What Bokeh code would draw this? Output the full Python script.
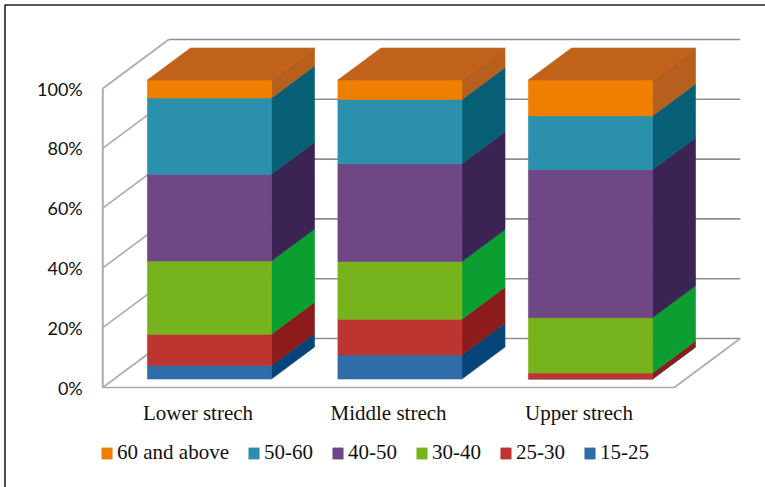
from bokeh.plotting import figure
from bokeh.models import Range1d, FixedTicker, Legend, LegendItem
from bokeh.embed import file_html
from bokeh.resources import INLINE

categories = ["Lower strech", "Middle strech", "Upper strech"]
ticks_pct = [0, 20, 40, 60, 80, 100]
s_15_25 = [4.5, 8, 0]
s_25_30 = [10.5, 12, 2]
s_30_40 = [24.5, 19.3, 18.5]
s_40_50 = [29, 32.7, 49.5]
s_50_60 = [25.5, 21.5, 18]
s_60_up = [6, 6.5, 12]
names = ["15-25", "25-30", "30-40", "40-50", "50-60", "60 and above"]
series = [s_15_25, s_25_30, s_30_40, s_40_50, s_50_60, s_60_up]
front = ["#2F6CA8", "#BD3531", "#76B31C", "#6F4785", "#2B90AC", "#EE7F00"]
side = ["#06457A", "#8C1B1B", "#0A9F30", "#3B2454", "#065F74", "#B75F1D"]
top_col = "#C0621A"

# layout (pixels)
W, H = 765, 487
UX, UY = 190.5, 2.99          # px per category, px per percent
X0, Y0 = 197.5, 387           # pixel position of category 0 / 0 %
DX, DY = 66 / UX, 49 / UY     # oblique offset of unit depth
D0, D1 = 0.173, 0.826         # bar depth span
BW = 124 / UX


def px_x(v):
    return (v - X0) / UX


def px_y(v):
    return (Y0 - v) / UY


p = figure(frame_width=W, frame_height=H, output_backend="svg", toolbar_location=None,
           x_range=Range1d(px_x(0), px_x(W)), y_range=Range1d(px_y(H), px_y(0)),
           min_border_left=0, min_border_right=0, min_border_top=0, min_border_bottom=0)
p.outline_line_alpha = 0
p.grid.visible = False
p.background_fill_color = "white"


def pr(x, y, d):
    return x + d * DX, y + d * DY


# picture frame of the reference: top and left rules only
p.line([px_x(W), px_x(4.5), px_x(4.5)], [px_y(4.5), px_y(4.5), px_y(H)], line_color="#222222", line_width=1.6)

xl, xr = -0.5, 2.5
for t in ticks_pct:
    x1, y1 = pr(xl, t, 1)
    x2, y2 = pr(xr, t, 1)
    p.line([xl, x1], [t, y1], line_color="#ABABAB", line_width=1.6)
    p.line([x1, x2], [y1, y2], line_color="#8E8E8E", line_width=1.6)
p.line([xl, xl], [0, 100], line_color="#ABABAB", line_width=2)
fx, fy = pr(xr, 0, 1)
p.line([xl, xr, fx], [0, 0, fy], line_color="#ABABAB", line_width=1.6)

items = []
for k, (vals, name) in enumerate(zip(series, names)):
    fxs, fys, sxs, sys = [], [], [], []
    for i, v in enumerate(vals):
        base = sum(s[i] for s in series[:k])
        a, _ = pr(i - BW / 2, 0, D0)
        b, _ = pr(i + BW / 2, 0, D0)
        ly = pr(0, base, D0)[1]
        hy = pr(0, base + v, D0)[1]
        fxs.append([a, b, b, a])
        fys.append([ly, ly, hy, hy])
        b2, _ = pr(i + BW / 2, 0, D1)
        ly2 = pr(0, base, D1)[1]
        hy2 = pr(0, base + v, D1)[1]
        sxs.append([b, b2, b2, b])
        sys.append([ly, ly2, hy2, hy])
    p.patches(sxs, sys, fill_color=side[k], line_color=side[k], line_width=0.6)
    r = p.patches(fxs, fys, fill_color=front[k], line_color=front[k], line_width=0.6)
    items.append(LegendItem(label=name, renderers=[r]))

txs, tys = [], []
for i in range(len(categories)):
    a0, y0 = pr(i - BW / 2, 100, D0)
    b0, _ = pr(i + BW / 2, 100, D0)
    a1, y1 = pr(i - BW / 2, 100, D1)
    b1, _ = pr(i + BW / 2, 100, D1)
    txs.append([a0, b0, b1, a1])
    tys.append([y0, y0, y1, y1])
p.patches(txs, tys, fill_color=top_col, line_color=top_col, line_width=0.6)

ya = p.yaxis[0]
ya.fixed_location = xl
ya.ticker = FixedTicker(ticks=ticks_pct)
ya.major_label_overrides = {t: f"{t}%" for t in ticks_pct}
ya.major_label_text_font = "Lato"
ya.major_label_text_font_size = "18px"
ya.major_label_text_color = "#111111"
ya.major_label_standoff = 14
ya.axis_line_color = None
ya.major_tick_line_color = None
ya.minor_tick_line_color = None

xa = p.xaxis[0]
xa.fixed_location = px_y(392)
xa.ticker = FixedTicker(ticks=list(range(len(categories))))
xa.major_label_overrides = {i: c for i, c in enumerate(categories)}
xa.major_label_text_font = "Liberation Serif"
xa.major_label_text_font_size = "21px"
xa.major_label_text_color = "#111111"
xa.major_label_standoff = 2
xa.axis_line_color = None
xa.major_tick_line_color = None
xa.minor_tick_line_color = None

legend = Legend(items=items[::-1], orientation="horizontal", location=(100, 22),
                glyph_width=13, glyph_height=14, label_standoff=4, spacing=18,
                padding=0, margin=0, border_line_color=None,
                background_fill_alpha=0,
                label_text_font="Liberation Serif", label_text_font_size="21px",
                label_text_color="#111111", label_height=12, label_width=10)
p.add_layout(legend, "center")

open("out.html", "w").write(file_html(p, INLINE))
